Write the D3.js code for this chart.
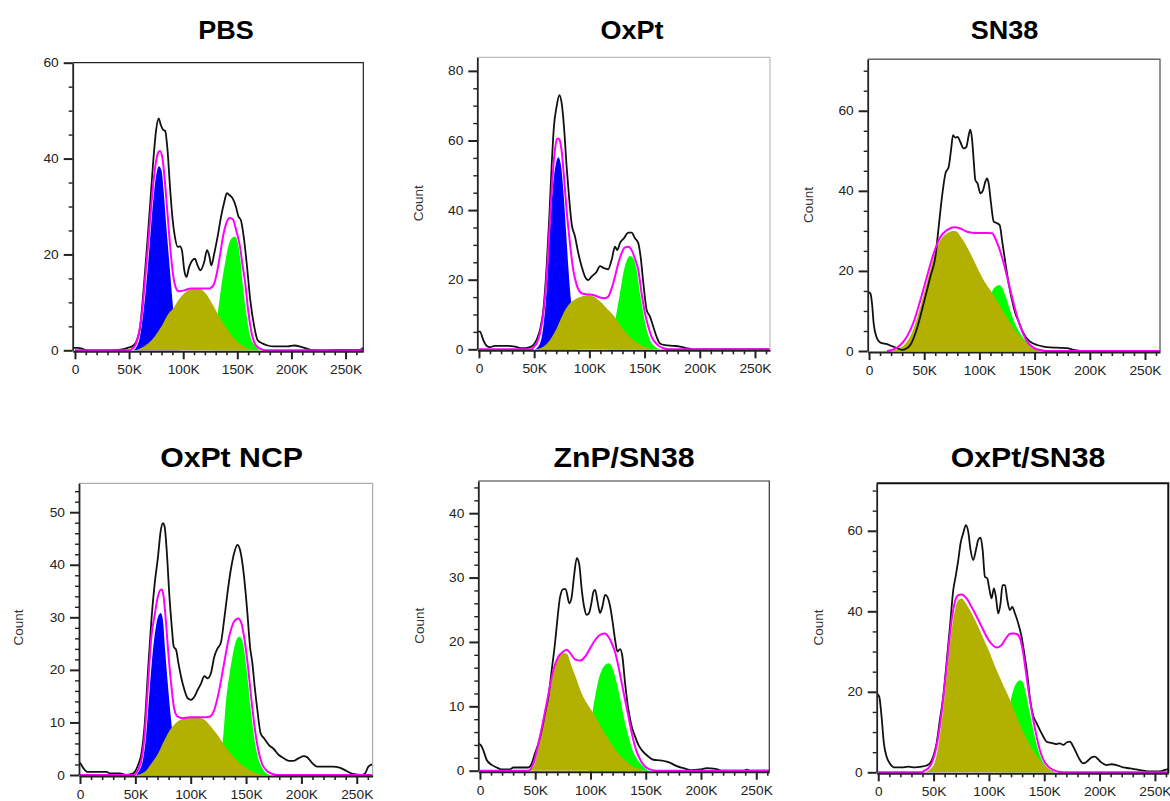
<!DOCTYPE html>
<html>
<head>
<meta charset="utf-8">
<script src="https://cdn.jsdelivr.net/npm/d3@7"></script>
<style>
  html, body { margin: 0; padding: 0; background: #fff; }
  svg { display: block; }
</style>
</head>
<body>
<svg id="chart" width="1170" height="801"></svg>
<script>
// Cell-cycle DNA histograms: x = signal (thousands), y = count.
// raw = measured histogram, fit = model sum, g1 / s / g2 = phase components.

const xMajorTicks = [0, 50, 100, 150, 200, 250];
const xTickLabels = ["0", "50K", "100K", "150K", "200K", "250K"];
const xMinorTicks = [0,10,20,30,40,50,60,70,80,90,100,110,120,130,140,150,160,170,180,190,200,210,220,230,240,250,260];

const titles = ["PBS", "OxPt", "SN38", "OxPt NCP", "ZnP/SN38", "OxPt/SN38"];

// ---- PBS ----
const pbsRaw = [[-2,0.5],[3,0.5],[8,0.2],[12,0],[30,0],[40,0.1],[46,0.3],[50,0.6],[54,1],[57,2],[60,4.5],[63,11.5],[66,20],[69,29],[72,38.5],[75,46],[77.3,48.4],[79.3,47],[81.5,46],[83.3,45.8],[85.5,41.8],[88,33.4],[90,27.8],[92.3,23.7],[94.8,21.6],[97,21.7],[98.8,20.9],[101,16.7],[103,15.3],[105.5,17.4],[108.6,18.8],[110.8,19.1],[113.3,17.7],[116,16.7],[119.4,18.4],[122,20.9],[124,19.8],[126,17.7],[128.7,20.2],[131.8,23.7],[134.9,27.8],[138,31],[140.4,32.8],[142.6,32.4],[145.7,31.7],[148.8,29.9],[150.9,28],[153.4,27.1],[155.9,23.7],[159,17.4],[162,10.4],[165.7,4.9],[168.8,2.1],[173.5,1.4],[178,1],[184,0.8],[196.6,0.8],[202.8,1],[209,0.7],[218,0.1],[227.5,0],[240,0.1],[252,0.1],[263,0.1],[267,0.6]];
const pbsFit = [[0,0],[50,0],[53,0.3],[56,1.2],[59,3.5],[62,8],[64.5,14],[67,20.5],[69.5,27.5],[72,34],[74.5,38.8],[77,41.3],[78.5,41.6],[80.5,40.5],[83,35.5],[85.5,28.5],[88,21.5],[90.5,16],[93,13.2],[96,12.3],[101,12.5],[107,12.9],[116,12.9],[124,12.9],[128,13.6],[131,16],[134,19.8],[137,24],[140,26.6],[143,27.6],[146,27.3],[149,25],[152.5,21.6],[155,17.5],[157,14.6],[160,8.4],[163.3,3.5],[166,1.5],[168,0.8],[172.5,0.2],[176,0],[267,0]];
const pbsG1 = [[54,0],[57,0.8],[60,2.8],[63,7.5],[66,14],[69,22],[72,30.5],[75,36.5],[77.5,38.4],[80,37.5],[82,33],[84,27],[86,21.5],[88,16],[90,10.5],[92,5.5],[94,2],[97,0]];
const pbsS = [[56,0],[62,0.6],[68,1.5],[74,3],[80,5],[86,7.5],[91,8.8],[96,10.6],[101,11.9],[106,12.7],[111,13],[116,12.8],[121,11.8],[126,10],[131,8],[136,6],[141,4.3],[146,2.8],[151,1.6],[156,0.8],[161,0.3],[166,0.1],[171,0]];
const pbsG2 = [[128,0],[132.5,8.7],[135.5,13.9],[138.6,18.1],[141.6,21.6],[144.7,23.4],[147.8,23.7],[150,22.8],[152.5,19.5],[155.6,12.5],[158.7,7],[161.7,3.1],[166.4,1],[171,0]];

// ---- OxPt ----
const oxRaw = [[-1.5,5.1],[0.9,5.1],[3.9,2.7],[6.9,1],[10,0.6],[14.5,1],[25,1],[32.6,0.8],[38.6,0.3],[44.7,0.5],[49.2,1.2],[52.2,2.7],[55.3,5.6],[58.3,11.3],[61.3,23.8],[63.7,38],[65.8,52.5],[67.9,64],[70.3,69.7],[72.8,73],[74.9,70.7],[77,64],[79.4,52.5],[81.8,43],[83.9,36.2],[87,32.4],[90,27.6],[93,23.8],[96,20.9],[99,19.9],[102,20.9],[106.6,22.3],[109.6,23.9],[113.2,23.3],[117,23],[120.2,25.7],[123.2,29.5],[125.3,28.5],[127.7,30.5],[131.3,31.9],[135.3,33.5],[138.3,33.5],[141.3,31.9],[144.3,30.5],[146.4,26.6],[148.9,19],[151.9,11.3],[154.9,9.4],[157.9,6.5],[160.9,3.6],[163.9,1.7],[168.5,1.2],[176,1],[182,0.8],[188,0.3],[194,0],[263,0]];
const oxFit = [[0,0],[48,0],[49.2,0.5],[52.2,1.7],[55.3,4.6],[58.3,10.3],[61.3,20.9],[64.3,37],[66.7,49.6],[68.8,57.3],[71,60.6],[72.8,60.3],[74.9,57],[77,49.6],[79.4,40],[82.4,30.5],[85.4,22.8],[88.5,18.5],[93,16.1],[97.5,15.8],[103.6,15.6],[109.6,14.9],[114.1,14.7],[117,15.1],[120.2,17.5],[123.2,20.9],[126.2,24.7],[129.2,27.6],[132.2,29.3],[135.3,29.5],[138.3,28.5],[141.3,26],[144.3,22.8],[147.3,16.1],[150.4,10.3],[153.4,6.5],[156.4,3.6],[161,1.5],[167,0.3],[173,0],[263,0]];
const oxG1 = [[50.7,0],[55.3,1.7],[58.3,6.5],[61.3,17],[64.3,34.3],[67.3,47.7],[69.7,53.4],[71.9,55.2],[74,53.4],[76.4,45.8],[78.8,34.3],[80.9,23.8],[83,15.1],[84.8,10.3],[87,4.6],[89,0]];
const oxS = [[50.7,0],[58.3,0.8],[64.3,2.7],[70.3,6],[76.4,10.3],[82.4,13.2],[88.5,14.6],[94.5,15.3],[99,15.5],[103.6,15.2],[109.6,13.8],[115.6,11.8],[121.7,9.8],[127.7,7],[133.8,4.6],[139.8,2.7],[145.8,1.4],[151.9,0.5],[158,0]];
const oxG2 = [[118,0],[124,9.4],[127.7,16.1],[130.7,21.8],[133.8,25.5],[136.8,26.8],[139.8,26.1],[142.8,22.8],[145.8,16.1],[148.9,10.3],[151.9,5.6],[154.9,2.7],[159.4,0.8],[163.9,0]];

// ---- SN38 ----
const snRaw = [[-1,14.8],[1.2,14.4],[2.7,11.9],[4.2,6.9],[6.6,3.6],[10.3,2.1],[16.3,1.7],[20.8,1.2],[25.4,0.7],[29.9,0.3],[33,0.5],[37.4,1.5],[43.5,5.7],[49.5,11.9],[55.6,18.6],[60.1,23.5],[63.1,31],[66.1,38.5],[69.2,44.3],[72.2,46],[74.3,50.2],[76.1,53.9],[78.2,53.3],[80.3,53.5],[82.7,52.2],[85.7,50.6],[88.2,51],[90.3,53.9],[91.8,55.3],[93.3,53],[94.8,47.7],[96.3,42.7],[98.4,41.8],[100.8,39.4],[103.3,40.2],[105.4,42.3],[106.9,43.1],[108.4,41.8],[110.5,36.9],[113,32.3],[116,31.9],[118.4,31.4],[120.5,27.7],[123.6,21.9],[126.5,16.9],[129.5,12.7],[132.6,9.4],[135.6,7.3],[138.6,5.2],[141.6,3.6],[146.1,2.3],[152.2,1.5],[158.2,1.1],[164.3,0.9],[173.3,0.8],[179.3,0.7],[185.4,0.3],[191.4,0],[264,0]];
const snFit = [[16.3,0],[22.3,0.4],[28.4,1.5],[34.4,3.6],[40.5,7.3],[46.5,12.7],[52.5,18.6],[58.6,24.4],[64.6,28.5],[70.7,30.2],[76.7,30.9],[82.7,30.6],[88.8,29.8],[97.8,29.5],[106.9,29.5],[111.4,29.4],[114.4,28.1],[117.5,26],[122,21.9],[126.5,16.9],[131,11.9],[135.6,7.3],[140.1,4],[144.6,1.9],[149.2,0.8],[155.2,0.25],[161.2,0],[264,0]];
const snS = [[19.3,0],[28.4,0.8],[34.4,2.3],[40.5,5.7],[46.5,11.1],[52.5,17.3],[58.6,23.5],[64.6,27.7],[70.7,29.4],[76,30],[78.2,30],[84.2,28.1],[91.8,24.4],[97.8,21],[103.9,17.7],[111.4,14.6],[119,11.1],[126.5,7.7],[134,4.6],[141.6,2.3],[149.2,0.8],[156.7,0]];
const snG2 = [[108,0],[111.5,14.8],[113,15.6],[116,16.3],[118.4,16.5],[120.5,15.8],[123.6,13.8],[126.5,11.3],[129.5,8.8],[134,5.8],[138.6,3.7],[144.6,1.9],[150.7,0.8],[155,0]];

// ---- OxPt NCP ----
const ncpRaw = [[-2,2.5],[0,2.3],[3,1.3],[6.6,0.6],[24,0.6],[27,0.3],[36,0.3],[41.9,0],[46.5,0.2],[49.5,0.6],[52.5,1.9],[55.5,4.1],[58.5,9.8],[61.5,20],[64.5,29.5],[67.5,36.5],[70.5,41.6],[72.8,46.3],[74.9,47.9],[76.4,47.3],[78.5,42.2],[80.8,33.9],[82.9,28.2],[84.7,24.4],[86.8,23.8],[88.9,21.3],[91.3,18.7],[94.3,16.2],[97.3,14.6],[100.3,14.3],[103.3,14.9],[106.3,16.2],[109.3,17.4],[112.3,18.8],[115.3,18.4],[118.3,19.4],[121.3,22.5],[124.3,24.1],[127.2,25.1],[130.2,29.5],[133.2,34.6],[136.2,39],[139.2,42.2],[142.2,43.8],[144.6,42.8],[146.7,40.3],[148.8,36.5],[151.2,30.8],[153.6,24.4],[155.7,21.3],[157.8,16.8],[160.2,12.4],[163.2,7.9],[166.2,7],[170.7,5.7],[175.2,4.9],[179.6,3.8],[184.1,3.2],[188.6,2.7],[193.1,2.7],[197.6,3.2],[202.1,3.6],[205.1,3.4],[209.6,2.3],[214.1,1.6],[228.5,1.6],[234.5,1.4],[240.5,0.8],[246.5,0.2],[254.5,0],[257.5,0.3],[260.5,1.6],[264,2]];
const ncpFit = [[0,0],[48.5,0],[49.5,0.1],[52.5,1],[55.5,2.9],[58.5,7.9],[61.5,17.4],[64.5,26.3],[67.5,30.5],[70,33.6],[72.5,35.2],[74,35.3],[75.5,34],[77.5,29.5],[79.5,24],[82.3,17.4],[85.3,12.4],[88.3,11.1],[92.8,10.8],[98.8,11],[104.8,11],[110.8,11],[116.8,11.1],[121.3,12.4],[125.8,16.2],[130.2,21.3],[134.7,26.3],[139.2,29.2],[142.8,29.8],[145.8,28.9],[148.8,25.5],[151.8,20.5],[154.8,14.5],[157.8,9],[160.8,5],[164.7,2],[169.2,0.7],[175.2,0.1],[181,0],[264,0]];
const ncpG1 = [[50.9,0],[53.9,1],[56.9,2.9],[59.9,7.9],[62.9,16.2],[65.9,23.8],[68.1,27.6],[70.5,30.1],[73,30.8],[74.9,29.5],[76.9,23.8],[79.3,17.4],[81.7,11.7],[83.8,7.3],[85.3,4.1],[87.4,0]];
const ncpS = [[50.9,0],[58.5,0.6],[64.5,2.2],[70.5,4.1],[76.4,6.7],[82.3,8.9],[88.3,10.2],[94.3,10.8],[100.3,11],[106.3,11],[112.3,10.5],[118.3,9.2],[124.3,7.6],[130.2,5.7],[136.2,4.1],[142.2,2.7],[148.2,1.6],[154.2,0.8],[160.2,0.3],[166.2,0]];
const ncpG2 = [[123.5,0],[129.6,7.9],[131.7,13.6],[134.7,18.7],[137.7,22.5],[140.7,25.4],[143.7,26.3],[145.8,26],[148.2,23.8],[151.2,18.7],[154.2,12.4],[157.2,7.3],[160.2,3.8],[164.7,1.3],[169.2,0.2],[172.2,0]];

// ---- ZnP/SN38 ----
const znRaw = [[-1.5,4.2],[0.6,4],[3,3.2],[6,1.7],[10.6,0.9],[15.1,0.5],[19.6,0.2],[27.2,0.2],[30.2,0.5],[43.8,0.5],[46.8,1.1],[49.8,2.7],[52.8,4.2],[55.9,6.3],[58.9,8.9],[61.9,11.5],[64.9,15.6],[67.9,19.8],[70,23.4],[72.5,27],[75.5,28.2],[77.5,28.2],[80.9,26],[83,27],[85.1,30.2],[87.6,33],[89.7,32.2],[92.1,28.1],[94.2,25.5],[96.6,24.2],[98.7,24.5],[100.8,26],[102.7,27.8],[104.2,28.1],[106.3,26.3],[108.7,24.5],[110.8,25.5],[113.2,27.3],[115.3,27],[117.8,25.5],[120.2,22.9],[122.3,20.3],[124.4,18.5],[126.8,18.9],[128.9,17.7],[131.3,13.6],[134.4,9.4],[137.4,6.8],[140.4,5.3],[143.4,4],[146.4,3.2],[151,2.4],[157,1.7],[163,1.6],[169,1.4],[173.6,1.1],[178.1,0.7],[184.2,0.4],[190.2,0.1],[199.3,0.2],[205.3,0.4],[212.9,0.3],[218.9,0],[238.5,0],[241.5,0.15],[244.6,0],[262,0]];
const znFit = [[0,0],[43.8,0],[48.3,1.1],[54.3,5.3],[60.4,10.5],[66.4,15.6],[70.9,17.7],[75.5,18.5],[78.5,18.8],[81.5,18.3],[86,17.3],[90.6,17.1],[95.1,17.7],[99.6,19],[104.2,20.3],[108.7,21.1],[113.2,21.3],[116.2,20.8],[119.3,19.8],[122.3,18.4],[125.3,16.2],[128.3,13.6],[131.3,11],[134.4,8.4],[137.4,5.8],[141.3,3.2],[145,1.7],[149.5,0.6],[154,0.2],[160,0],[262,0]];
const znS = [[43.8,0],[48.3,0.6],[54.3,4.8],[60.4,9.9],[66.4,15.1],[70.9,17.5],[75.5,18.3],[78.5,18.2],[83,16.2],[87.6,14.1],[92.1,12],[96.6,10.5],[102.7,8.9],[108.7,7.1],[114.7,5.3],[120.8,3.7],[126.8,2.4],[132.9,1.4],[138.9,0.6],[145,0.2],[149.5,0]];
const znG2 = [[98,0],[102,9.2],[104.2,11.5],[107.2,14.1],[110.2,15.6],[113.2,16.4],[116.2,16.7],[119.3,16.2],[122.3,14.6],[125.3,12.5],[128.3,9.9],[131.3,7.4],[134.4,5.3],[137.4,3.5],[141.9,1.9],[146.4,0.9],[151,0.2],[154,0]];

// ---- OxPt/SN38 ----
const comboRaw = [[-1.5,19.6],[0.9,18.8],[3,13.8],[5.1,7.2],[7.5,3.9],[10.5,2.2],[15.1,1.2],[21.1,1.2],[27.1,1.4],[33.1,1.2],[39.2,1.4],[43.7,1.7],[46.7,2.2],[49.7,3.9],[52.7,7.2],[55.7,13],[58.7,18.8],[61.7,27.1],[64.8,36.2],[67.8,45.3],[69.9,48.6],[72.3,52.7],[74.4,56.9],[76.8,59.4],[79.2,61.4],[81.3,59.8],[83.4,55.3],[85.8,52.7],[88.3,55.3],[90.4,57.8],[92.5,58.3],[94.3,55.3],[96.4,48.6],[98.5,48.2],[100.3,45.7],[102.4,43.2],[104.5,45.7],[106.3,43.6],[108.4,39.5],[110.5,42],[112.3,46.5],[114.5,46.5],[116.6,42.8],[119,40.3],[121.1,41.1],[123.5,39.5],[126.5,37],[129.5,33.7],[132.5,28.5],[134.6,24.5],[137,18.5],[140.1,14],[143.1,12.2],[146.1,10.5],[149.1,8.9],[152.1,7.6],[155.1,7.4],[158.1,7.2],[161.1,7],[164.2,7.2],[167.2,6.8],[170.2,7.4],[173.2,7.6],[176.2,6.4],[179.2,4.7],[182.2,3.1],[185.2,2.2],[188.3,2.6],[192.8,3.7],[195.8,3.9],[198.8,3.2],[201.8,2.4],[206.3,1.8],[210.8,2],[215.4,1.8],[221.4,1.2],[227.4,1],[233.4,0.7],[239.5,0.4],[245.5,0.2],[251.5,0.2],[256,0.3],[259,0.6],[262,0.8]];
const comboFit = [[0,0],[40,0],[40.7,0.2],[45.2,1],[48.2,2.2],[51.2,4.7],[54.2,8.9],[57.2,14.7],[60.2,22.1],[63.3,30.4],[66.3,37.8],[69.3,42.4],[72.3,44],[75.3,44.2],[79.8,43.2],[84.3,41.1],[88.9,38.7],[93.4,36.2],[97.9,33.7],[102.4,31.9],[106.9,31],[111.4,31.6],[115.4,33.3],[119,34.4],[122.6,34.5],[125.5,34.3],[128.6,32.9],[131,29.6],[134,23.8],[137,18],[140.1,13],[143.1,8.9],[146.1,5.5],[149.1,3.2],[153.6,1.4],[158.1,0.6],[164.2,0.1],[168.7,0],[262,0]];
const comboS = [[40.7,0],[46.7,0.7],[51.2,2.6],[54.2,6.4],[57.2,12.2],[60.2,19.6],[63.3,27.9],[66.3,35.3],[69.3,40.3],[72.3,42.8],[75.3,43.2],[78.3,42.4],[82.8,40.3],[88.9,37],[94.9,33.3],[100.9,29.6],[106.9,25.4],[112.9,21.7],[119,18],[125,13.8],[131,10.1],[137,6.8],[143.1,4.1],[149.1,2.1],[155.1,0.7],[161.1,0]];
const comboG2 = [[112,0],[119.9,18],[122,20.4],[125,22.2],[128,22.9],[130.4,22.5],[133.4,19.6],[136.4,15.5],[139.5,11.3],[142.5,7.6],[146.1,4.3],[150.6,1.8],[155.1,0.6],[159.6,0]];

// Y tick spacing per panel: labelled ticks and the minor step
const yMajorTicks = [[0,20,40,60],[0,20,40,60,80],[0,20,40,60],[0,10,20,30,40,50],[0,10,20,30,40],[0,20,40,60]];
const yMinorStep = [5, 5, 5, 2, 2, 5];
const yMax = [60, 83.9, 72.85, 55.5, 45, 71.8];

// Panel table built from the series above
const series = [
  { raw: pbsRaw,   fit: pbsFit,   g1: pbsG1, s: pbsS,   g2: pbsG2 },
  { raw: oxRaw,    fit: oxFit,    g1: oxG1,  s: oxS,    g2: oxG2 },
  { raw: snRaw,    fit: snFit,    g1: null,  s: snS,    g2: snG2 },
  { raw: ncpRaw,   fit: ncpFit,   g1: ncpG1, s: ncpS,   g2: ncpG2 },
  { raw: znRaw,    fit: znFit,    g1: null,  s: znS,    g2: znG2 },
  { raw: comboRaw, fit: comboFit, g1: null,  s: comboS, g2: comboG2 }
];

// Layout of each panel on the page
const layout = [
  { left: 72.7,  right: 363.3,  top: 62.7,  bottom: 350.3, xDom: [-2.1, 266.4], tx: 226,   ty: 38.7,  ts: 25, count: null,             frame: ["#222", 1.2] },
  { left: 477.3, right: 770,    top: 57.3,  bottom: 349.3, xDom: [-1.5, 263.6], tx: 632,   ty: 38.7,  ts: 25, count: [418.3, 203.3],   frame: ["#aaa", 1] },
  { left: 867.7, right: 1160,   top: 59.3,  bottom: 351,   xDom: [-1.2, 263.6], tx: 1004.5,ty: 38.7,  ts: 25, count: [808.3, 205],     frame: ["#666", 1.4] },
  { left: 79,    right: 372.7,  top: 483.3, bottom: 775,   xDom: [-0.9, 264.4], tx: 231.5, ty: 466.7, ts: 28, count: [18.3, 627.5],    frame: ["#999", 1] },
  { left: 478.3, right: 769.3,  top: 481,   bottom: 770.7, xDom: [-1.5, 261.8], tx: 624,   ty: 466.7, ts: 28, count: [419.5, 625.7],   frame: ["#333", 1.2] },
  { left: 876.7, right: 1168.3, top: 483.3, bottom: 772.3, xDom: [-1.4, 262.1], tx: 1028,  ty: 466.7, ts: 28, count: [818.3, 627.5],   frame: ["#111", 2] }
];

const BLUE = "#0000ff", GREEN = "#00ff00", OLIVE = "#b2b000", MAGENTA = "#ff00ff", INK = "#111";
const AXIS = "#222";
const FONT = "'Liberation Sans', Arial, Helvetica, sans-serif";
const STRETCH = 1.1;

const svg = d3.select("#chart");
const defs = svg.append("defs");

layout.forEach((L, i) => {
  const d = series[i];
  const g = svg.append("g");

  const x = d3.scaleLinear().domain(L.xDom).range([L.left, L.right]);
  const y = d3.scaleLinear().domain([0, yMax[i]]).range([L.bottom, L.top]);

  defs.append("clipPath").attr("id", "plot" + i)
    .append("rect")
    .attr("x", L.left).attr("y", L.top)
    .attr("width", L.right - L.left).attr("height", L.bottom - L.top + 1);

  const plot = g.append("g").attr("clip-path", `url(#plot${i})`);

  const area = d3.area().x(p => x(p[0])).y0(y(0)).y1(p => y(p[1])).curve(d3.curveMonotoneX);
  const line = d3.line().x(p => x(p[0])).y(p => y(p[1])).curve(d3.curveMonotoneX);

  // phase components: G1 and G2 first, S phase over them
  if (d.g1) plot.append("path").attr("d", area(d.g1)).attr("fill", BLUE);
  plot.append("path").attr("d", area(d.g2)).attr("fill", GREEN);
  plot.append("path").attr("d", area(d.s)).attr("fill", OLIVE);

  // measured histogram and model sum
  plot.append("path").attr("d", line(d.raw))
    .attr("fill", "none").attr("stroke", INK).attr("stroke-width", 1.8)
    .attr("stroke-linejoin", "round");
  plot.append("path").attr("d", line(d.fit))
    .attr("fill", "none").attr("stroke", MAGENTA).attr("stroke-width", 2)
    .attr("stroke-linejoin", "round");

  // frame (top and right)
  g.append("path")
    .attr("d", `M${L.left},${L.top}H${L.right}V${L.bottom + 1}`)
    .attr("fill", "none").attr("stroke", L.frame[0]).attr("stroke-width", L.frame[1]);

  // x axis: minor then major ticks
  const xMinor = xMinorTicks.filter(v => !xMajorTicks.includes(v) && v <= L.xDom[1]);
  const gxm = g.append("g").attr("transform", `translate(0,${L.bottom + 1})`)
    .call(d3.axisBottom(x).tickValues(xMinor).tickSize(4).tickFormat("").tickSizeOuter(0));
  gxm.select(".domain").remove();
  gxm.selectAll(".tick line").attr("stroke", AXIS).attr("stroke-width", 1.6);

  const gx = g.append("g").attr("transform", `translate(0,${L.bottom + 1})`)
    .call(d3.axisBottom(x).tickValues(xMajorTicks)
      .tickFormat((v, k) => xTickLabels[k]).tickSize(8).tickPadding(6).tickSizeOuter(0));
  gx.attr("font-family", FONT).attr("font-size", 12.5);
  gx.select(".domain").attr("stroke", AXIS).attr("stroke-width", 2);
  gx.selectAll(".tick line").attr("stroke", AXIS).attr("stroke-width", 2);
  gx.selectAll(".tick text").attr("fill", "#222").attr("transform", `scale(${STRETCH},1)`);

  // y axis
  const yMinor = d3.range(0, yMax[i] + 1e-6, yMinorStep[i]).filter(v => !yMajorTicks[i].includes(v));
  const gym = g.append("g").attr("transform", `translate(${L.left},0)`)
    .call(d3.axisLeft(y).tickValues(yMinor).tickSize(4).tickFormat("").tickSizeOuter(0));
  gym.select(".domain").remove();
  gym.selectAll(".tick line").attr("stroke", AXIS).attr("stroke-width", 1.4);

  const gy = g.append("g").attr("transform", `translate(${L.left},0)`)
    .call(d3.axisLeft(y).tickValues(yMajorTicks[i]).tickSize(9).tickPadding(5).tickSizeOuter(0));
  gy.attr("font-family", FONT).attr("font-size", 12.5);
  gy.select(".domain").attr("stroke", AXIS).attr("stroke-width", 1.8);
  gy.selectAll(".tick line").attr("stroke", AXIS).attr("stroke-width", 2);
  gy.selectAll(".tick text").attr("fill", "#222")
    .attr("x", -14 / STRETCH).attr("transform", `scale(${STRETCH},1)`);

  // axis title
  if (L.count) {
    g.append("text")
      .attr("transform", `translate(${L.count[0]},${L.count[1]}) rotate(-90)`)
      .attr("text-anchor", "middle").attr("dominant-baseline", "central")
      .attr("font-family", FONT).attr("font-size", 13.5).attr("fill", "#333")
      .text("Count");
  }

  // panel title
  g.append("text")
    .attr("transform", `translate(${L.tx},${L.ty}) scale(1.08,1)`)
    .attr("text-anchor", "middle")
    .attr("font-family", FONT).attr("font-weight", "bold")
    .attr("font-size", L.ts).attr("fill", "#000")
    .text(titles[i]);
});
</script>
</body>
</html>
